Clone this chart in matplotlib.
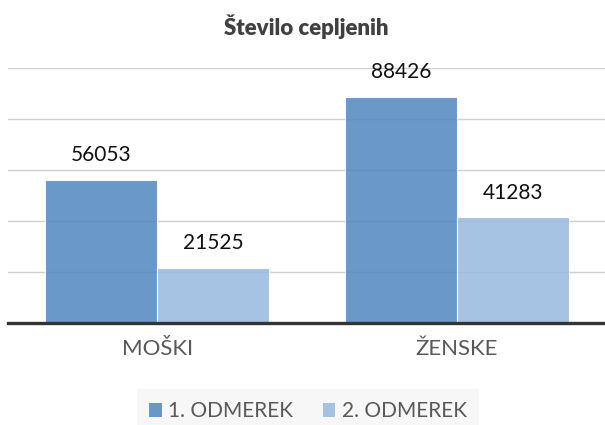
import matplotlib.pyplot as plt
from matplotlib.patches import Patch
import numpy as np

plt.rcParams['font.family'] = ['Lato', 'DejaVu Sans']

categories = ['MOŠKI', 'ŽENSKE']
series_names = ['1. ODMEREK', '2. ODMEREK']
dose1 = [56053, 88426]
dose2 = [21525, 41283]

c1 = '#4f86c0'
c2 = '#98b9de'

fig = plt.figure(figsize=(6.05, 4.25), dpi=100)
ax = fig.add_axes([8 / 605, 0.2407, 597 / 605, 0.60])

x = np.arange(len(categories))
w = 0.373

b1 = ax.bar(x - w / 2, dose1, w, color=c1, alpha=0.85, edgecolor='white', linewidth=0.8, zorder=3)
b2 = ax.bar(x + w / 2, dose2, w, color=c2, alpha=0.85, edgecolor='white', linewidth=0.8, zorder=3)

for bars, vals in [(b1, dose1), (b2, dose2)]:
    for rect, v in zip(bars, vals):
        ax.annotate(str(v), (rect.get_x() + rect.get_width() / 2, v),
                    xytext=(0, 13.5), textcoords='offset points',
                    ha='center', va='baseline', fontsize=15, color='#111111')

ax.set_xlim(-0.497, 1.493)
ax.set_ylim(0, 100000)
ax.set_yticks(np.arange(0, 100001, 20000))
ax.set_yticklabels([])
ax.tick_params(axis='y', length=0)
ax.grid(axis='y', color='#d0d0d0', linewidth=1, zorder=0)

ax.set_xticks(x)
ax.set_xticklabels(categories, fontsize=16, color='#595959')
ax.tick_params(axis='x', length=0, pad=12)

for s in ['top', 'right', 'left']:
    ax.spines[s].set_visible(False)
ax.spines['bottom'].set_color('#333333')
ax.spines['bottom'].set_linewidth(2.4)
ax.spines['bottom'].set_zorder(4)

fig.text(306 / 605, 1 - 35 / 425, 'Število cepljenih', ha='center', va='baseline',
         fontsize=16, fontweight='heavy', color='#404040')

handles = [Patch(facecolor=c1, alpha=0.85), Patch(facecolor=c2, alpha=0.85)]
leg = fig.legend(handles, series_names, loc='lower center', bbox_to_anchor=(308 / 605, -0.045),
                 ncol=2, frameon=True, fancybox=False, fontsize=15,
                 handlelength=0.62, handleheight=0.62, handletextpad=0.3,
                 columnspacing=1.4, borderpad=0.6, labelcolor='#595959')
leg.get_frame().set_facecolor('#f7f7f7')
leg.get_frame().set_edgecolor('none')
leg.get_frame().set_alpha(1)

fig.savefig('out.png', dpi=100)
